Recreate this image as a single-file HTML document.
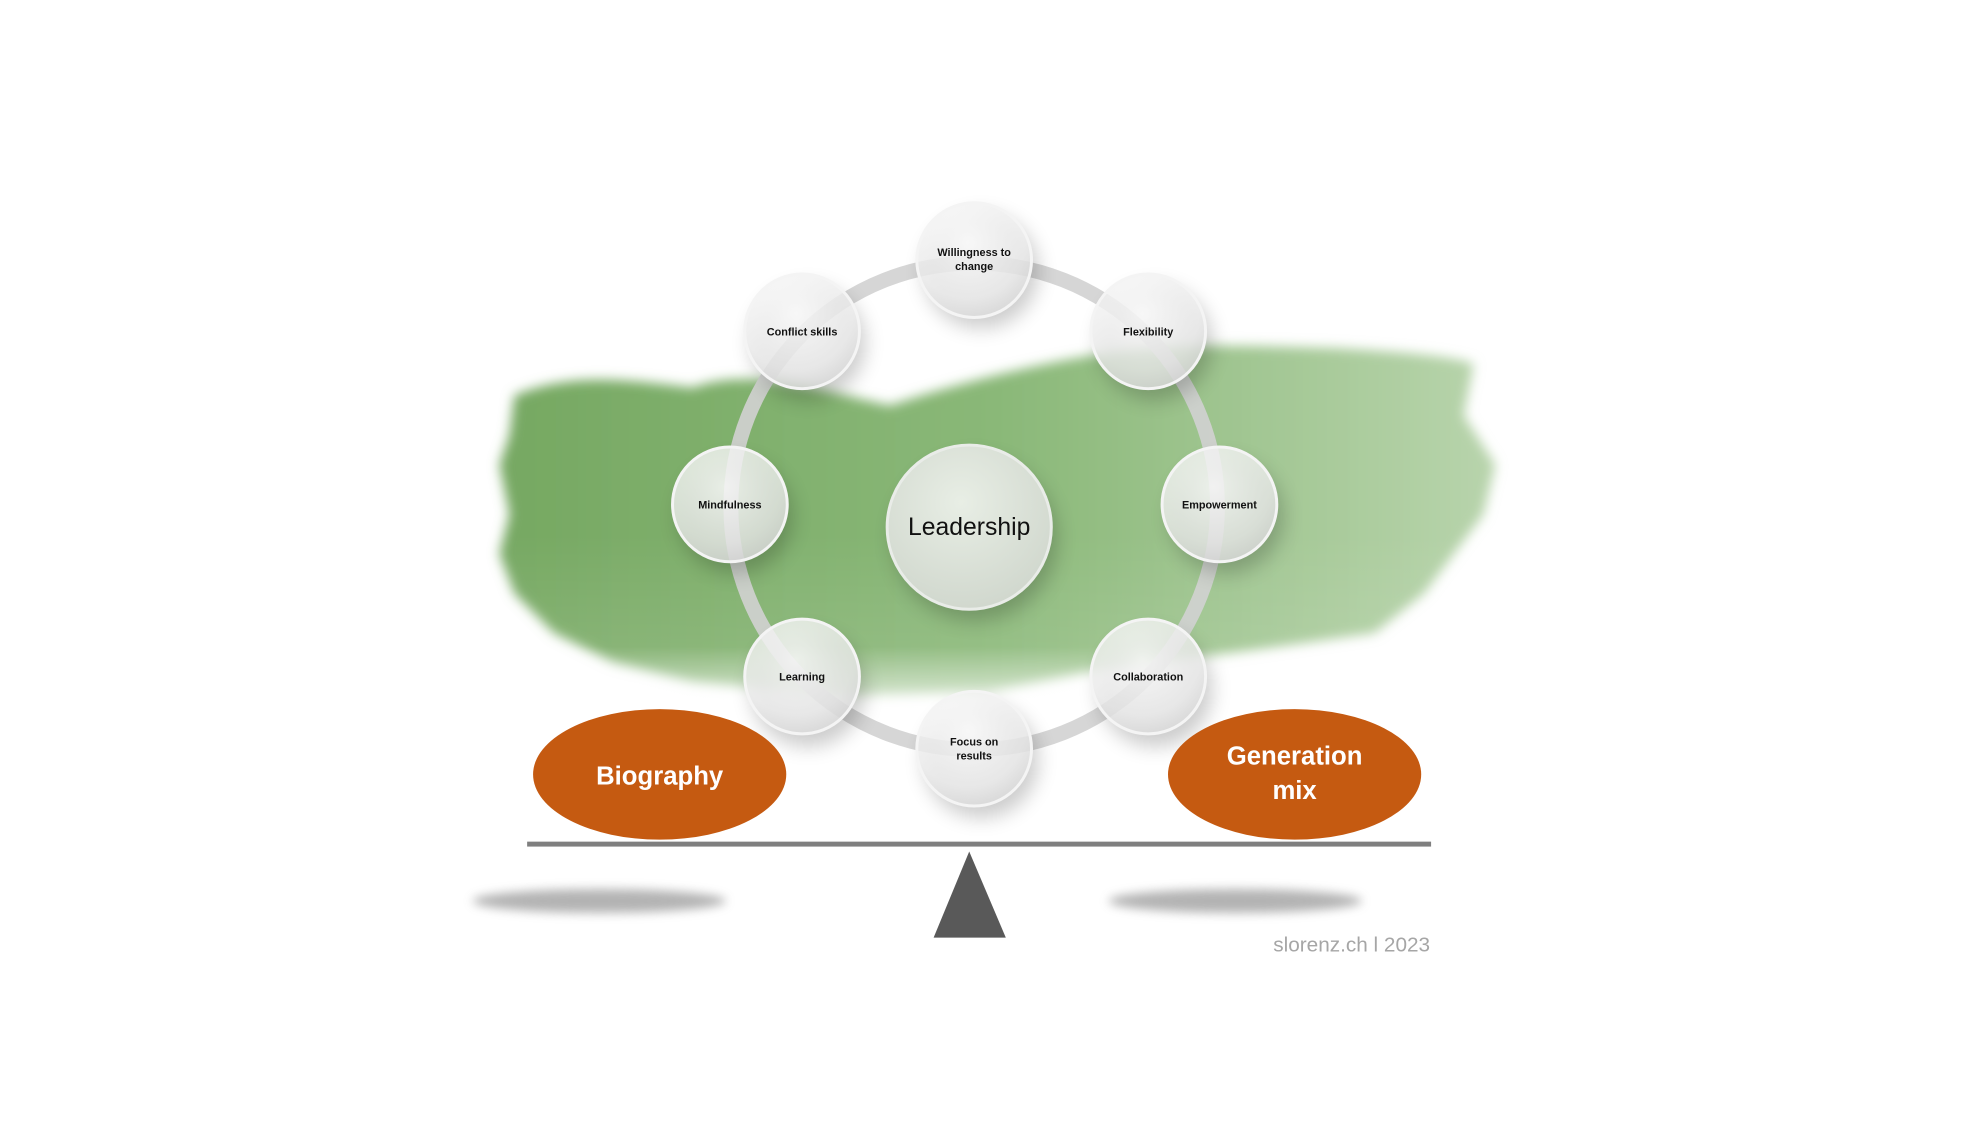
<!DOCTYPE html>
<html><head><meta charset="utf-8"><style>
html,body{margin:0;padding:0;background:#fff;}
svg{display:block;}
text{font-family:"Liberation Sans",sans-serif;}
</style></head><body>
<svg width="1986" height="1136" viewBox="0 0 1986 1136" xmlns="http://www.w3.org/2000/svg">
<defs>
<linearGradient id="gr" x1="0" x2="1" y1="0" y2="0">
<stop offset="0" stop-color="#76a862"/><stop offset="0.5" stop-color="#8ab878"/><stop offset="1" stop-color="#b8d4ac"/>
</linearGradient>
<linearGradient id="fade" x1="0" x2="0" y1="0" y2="1">
<stop offset="0" stop-color="#fff" stop-opacity="0"/><stop offset="0.6" stop-color="#fff" stop-opacity="0.1"/><stop offset="1" stop-color="#fff" stop-opacity="0.95"/>
</linearGradient>
<filter id="bl" x="-10%" y="-10%" width="120%" height="120%"><feGaussianBlur stdDeviation="6"/></filter>
<filter id="sh" x="-50%" y="-50%" width="200%" height="200%"><feGaussianBlur stdDeviation="10"/></filter>
<filter id="sh2" x="-20%" y="-100%" width="140%" height="300%"><feGaussianBlur stdDeviation="5"/></filter>
<radialGradient id="node" cx="0.45" cy="0.35" r="0.7">
<stop offset="0" stop-color="#ffffff" stop-opacity="0.85"/><stop offset="0.7" stop-color="#eeeeee" stop-opacity="0.8"/><stop offset="1" stop-color="#d6d6d6" stop-opacity="0.85"/>
</radialGradient>
<radialGradient id="lead" cx="0.45" cy="0.35" r="0.7">
<stop offset="0" stop-color="#e8eee5"/><stop offset="1" stop-color="#cfd6cc"/>
</radialGradient>
</defs>
<g transform="scale(0.989)">
<!-- green brush -->
<g filter="url(#bl)">
<path d="M520,400 C580,375 640,385 700,392 C760,370 830,395 900,410 C960,390 1040,370 1100,360 C1180,345 1270,350 1350,352 C1420,356 1470,360 1490,368 L1480,420 L1512,470 L1500,520 L1470,560 L1440,600 L1390,640 L1250,660 L1100,680 L1000,700 L850,705 L700,690 L620,670 L560,640 L520,600 L505,560 L515,520 L505,470 L515,440 Z" fill="url(#gr)"/>
</g>
<rect x="500" y="540" width="1020" height="190" fill="url(#fade)"/>

<circle cx="985" cy="512" r="246" fill="none" stroke="#d2d2d2" stroke-width="15" opacity="0.9"/>

<g filter="url(#sh)" fill="#000" opacity="0.2">
<circle cx="992" cy="274" r="58"/><circle cx="1168" cy="347" r="58"/><circle cx="1240" cy="522" r="58"/>
<circle cx="1168" cy="697" r="58"/><circle cx="992" cy="769" r="58"/><circle cx="817" cy="697" r="58"/>
<circle cx="744" cy="522" r="58"/><circle cx="817" cy="347" r="58"/><circle cx="986" cy="545" r="83"/>
</g>

<circle cx="980" cy="533" r="83" fill="url(#lead)" stroke="#e9ece8" stroke-width="3"/>
<text x="980" y="541" text-anchor="middle" font-size="25" fill="#111">Leadership</text>

<g fill="url(#node)" stroke="#f4f4f4" stroke-width="3">
<circle cx="985" cy="263" r="58"/><circle cx="1161" cy="335" r="58"/><circle cx="1233" cy="510" r="58"/>
<circle cx="1161" cy="684" r="58"/><circle cx="985" cy="757" r="58"/><circle cx="811" cy="684" r="58"/>
<circle cx="738" cy="510" r="58"/><circle cx="811" cy="335" r="58"/>
</g>
<g font-size="11" font-weight="bold" fill="#111" text-anchor="middle">
<text x="985" y="259">Willingness to</text><text x="985" y="273">change</text>
<text x="1161" y="339">Flexibility</text>
<text x="1233" y="514">Empowerment</text>
<text x="1161" y="688">Collaboration</text>
<text x="985" y="754">Focus on</text><text x="985" y="768">results</text>
<text x="811" y="688">Learning</text>
<text x="738" y="514">Mindfulness</text>
<text x="811" y="339">Conflict skills</text>
</g>

<ellipse cx="667" cy="783" rx="128" ry="66" fill="#c55a11"/>
<ellipse cx="1309" cy="783" rx="128" ry="66" fill="#c55a11"/>
<text x="667" y="793" text-anchor="middle" font-size="26" font-weight="bold" fill="#fff">Biography</text>
<text x="1309" y="773" text-anchor="middle" font-size="26" font-weight="bold" fill="#fff">Generation</text>
<text x="1309" y="808" text-anchor="middle" font-size="26" font-weight="bold" fill="#fff">mix</text>

<rect x="533" y="851" width="914" height="5" fill="#7f7f7f"/>
<polygon points="980,861 944,948 1017,948" fill="#595959"/>

<g filter="url(#sh2)" fill="#9a9a9a" opacity="0.75">
<ellipse cx="606" cy="911" rx="128" ry="12"/>
<ellipse cx="1249" cy="911" rx="128" ry="12"/>
</g>

<text x="1446" y="962" text-anchor="end" font-size="21" fill="#a6a6a6">slorenz.ch l 2023</text>
</g>
</svg>
</body></html>
